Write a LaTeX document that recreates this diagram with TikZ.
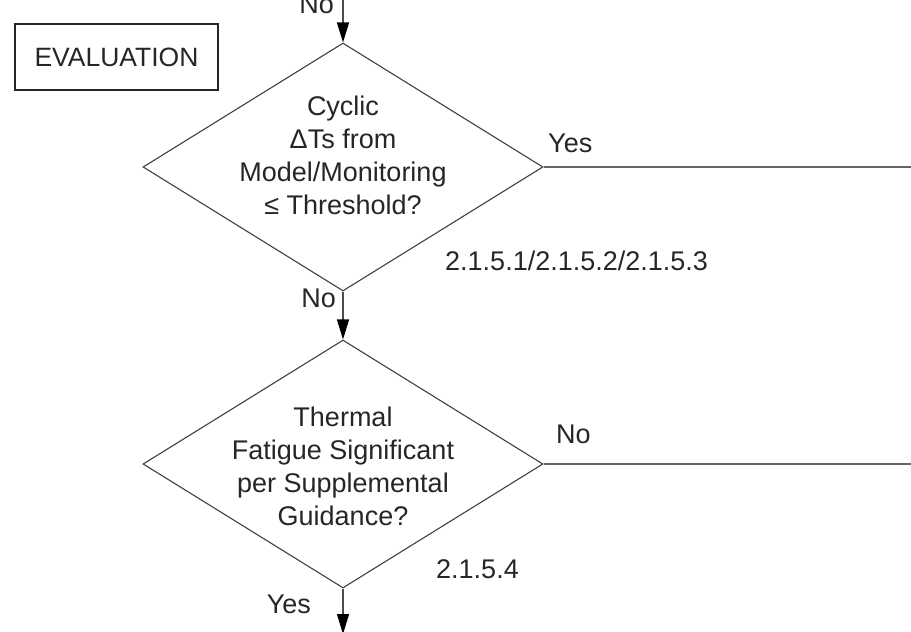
\documentclass[tikz,border=0pt]{standalone}
\usepackage{fontspec}
\setmainfont{Liberation Sans}
\usetikzlibrary{shapes.geometric,arrows.meta}

\begin{document}
\begin{tikzpicture}[x=1pt,y=1pt,
  decision/.style={draw=black!75, line width=1.1pt, shape=diamond,
    minimum width=400pt, minimum height=248pt, inner sep=0pt},
  qtext/.style={align=center, font=\fontsize{27}{33}\selectfont,
    text=black!85, inner sep=0pt},
  lbl/.style={font=\fontsize{27}{33}\selectfont, text=black!85, inner sep=0pt},
  flow/.style={draw=black!70, line width=1.4pt,
    -{Triangle[length=20pt,width=12pt,color=black]}},
  branch/.style={draw=black!60, line width=1.8pt},
  titlebox/.style={draw=black!85, line width=2.2pt, minimum width=203pt,
    minimum height=66pt, inner sep=0pt, text=black!85,
    font=\fontsize{26.5}{30}\selectfont}
]
\useasboundingbox (0,0) rectangle (911,-632);

% section title
\node[titlebox] (title) at (116.5,-57) {EVALUATION};

% decision diamonds
\node[decision] (d1) at (343,-167) {};
\node[qtext] (t1) at (343,-155) {Cyclic\\ΔTs from\\Model/Monitoring\\≤ Threshold?};

\node[decision] (d2) at (343,-464) {};
\node[qtext] (t2) at (343,-466) {Thermal\\Fatigue Significant\\per Supplemental\\Guidance?};

% incoming flow and exits
\coordinate (in) at (343,0);
\coordinate (out) at (343,-634);
\coordinate (yesend) at (915,-167);
\coordinate (noend) at (915,-464);

\draw[flow] (in) -- (d1.north);
\draw[flow] (d1.south) -- (d2.north);
\draw[flow] (d2.south) -- (out);
\draw[branch] (d1.east) -- (yesend);
\draw[branch] (d2.east) -- (noend);

% branch labels and references
\node[lbl, anchor=base east] (lno0) at (334,-13) {No};
\node[lbl, anchor=base west] (lyes1) at (548,-152) {Yes};
\node[lbl, anchor=base west] (ref1) at (445,-270) {2.1.5.1/2.1.5.2/2.1.5.3};
\node[lbl, anchor=base east] (lno1) at (336,-307) {No};
\node[lbl, anchor=base west] (lno2) at (556,-443) {No};
\node[lbl, anchor=base west] (ref2) at (436,-578) {2.1.5.4};
\node[lbl, anchor=base east] (lyes2) at (311,-613) {Yes};
\end{tikzpicture}
\end{document}
